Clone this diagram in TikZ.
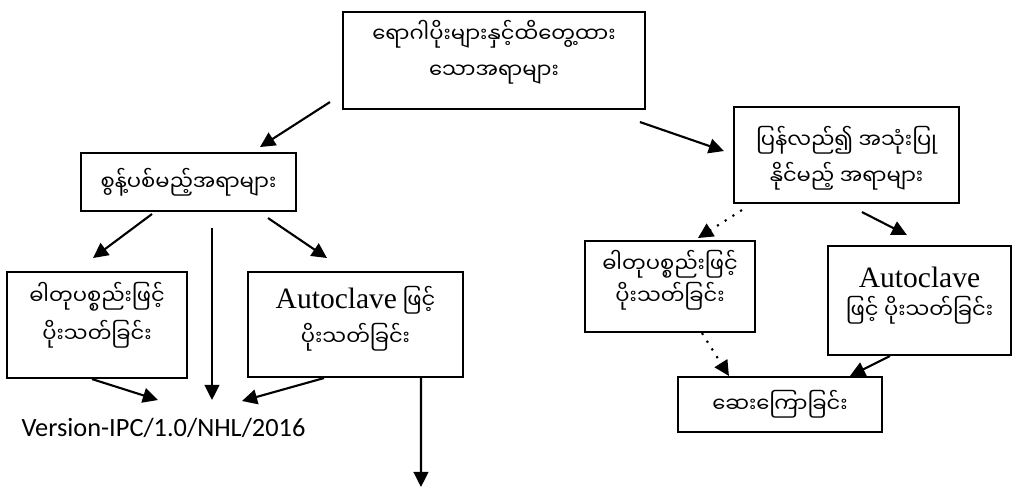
\documentclass[tikz,border=0pt]{standalone}
\usepackage{fontspec}
\setmainfont{Liberation Serif}
\newfontfamily\mmfont[Script=Myanmar]{Noto Sans Myanmar UI}
\newfontfamily\verfont{Carlito}
\usetikzlibrary{arrows.meta}
\lineskiplimit=-100pt

\begin{document}
\begin{tikzpicture}[scale = 10, font=\mmfont\fontsize{6}{10}\selectfont]
	\tikzstyle{boxStyle}=[draw, line width = 0.6pt, align = center, inner sep = 0pt, text depth = 0pt]
	\tikzstyle{arrowStyle}=[line width = 0.6pt, -{Triangle[length = 4.3pt, width = 4.2pt]}]
	\tikzstyle{dottedArrowStyle}=[arrowStyle, dotted]
	\useasboundingbox (0, 0) rectangle (1.012, 0.487);
	% boxes
	\node[boxStyle, minimum width = 3.02cm, minimum height = 0.97cm, text height = 10pt] (waste) at (0.494, 0.4265) {ရောဂါပိုးများနှင့်ထိတွေ့ထား\\သောအရာများ};
	\node[boxStyle, minimum width = 2.15cm, minimum height = 0.58cm, text depth = 1.6pt] (discard) at (0.1885, 0.305) {စွန့်ပစ်မည့်အရာများ};
	\node[boxStyle, minimum width = 2.25cm, minimum height = 0.96cm, text height = 16.5pt] (reuse) at (0.8465, 0.332) {ပြန်လည်၍ အသုံးပြု\\နိုင်မည့် အရာများ};
	\node[boxStyle, minimum width = 1.80cm, minimum height = 1.06cm, text height = 10.2pt, font = \mmfont\fontsize{6}{10.8}\selectfont] (chemL) at (0.097, 0.162) {ဓါတုပစ္စည်းဖြင့်\\ပိုးသတ်ခြင်း};
	\node[boxStyle, minimum width = 2.15cm, minimum height = 1.05cm, text height = 11.7pt, font = \mmfont\fontsize{6}{10.5}\selectfont] (autoL) at (0.3555, 0.1625) {{\rmfamily\fontsize{8.4}{10}\selectfont Autoclave} ဖြင့်\\ပိုးသတ်ခြင်း};
	\node[boxStyle, minimum width = 1.70cm, minimum height = 0.91cm, text height = 10pt, font = \mmfont\fontsize{6}{9}\selectfont] (chemR) at (0.670, 0.2005) {ဓါတုပစ္စည်းဖြင့်\\ပိုးသတ်ခြင်း};
	\node[boxStyle, minimum width = 1.83cm, minimum height = 1.09cm, text height = 10pt, font = \mmfont\fontsize{6}{8.8}\selectfont] (autoR) at (0.9195, 0.1865) {{\rmfamily\fontsize{8.4}{10}\selectfont Autoclave}\\ဖြင့် ပိုးသတ်ခြင်း};
	\node[boxStyle, minimum width = 2.04cm, minimum height = 0.55cm, text depth = 1.6pt] (wash) at (0.780, 0.0825) {ဆေးကြောခြင်း};
	\node[font = \verfont\fontsize{7.5}{9}\selectfont] (version) at (0.1635, 0.059) {Version-IPC/1.0/NHL/2016};
	% free ends
	\coordinate (wasteL) at (0.330, 0.385);
	\coordinate (wasteR) at (0.640, 0.365);
	\coordinate (discardTip) at (0.260, 0.340);
	\coordinate (reuseTip) at (0.724, 0.336);
	\coordinate (discardL) at (0.152, 0.273);
	\coordinate (discardM) at (0.212, 0.259);
	\coordinate (discardR) at (0.268, 0.269);
	\coordinate (chemLTip) at (0.093, 0.229);
	\coordinate (autoLTip) at (0.327, 0.229);
	\coordinate (versionL) at (0.158, 0.087);
	\coordinate (versionM) at (0.212, 0.087);
	\coordinate (versionR) at (0.242, 0.086);
	\coordinate (bottom) at (0.421, 0.0);
	\coordinate (reuseL) at (0.742, 0.277);
	\coordinate (reuseR) at (0.862, 0.275);
	\coordinate (chemRTip) at (0.698, 0.249);
	\coordinate (autoRTip) at (0.907, 0.252);
	% arrows
	\draw[arrowStyle] (wasteL) -- (discardTip);
	\draw[arrowStyle] (wasteR) -- (reuseTip);
	\draw[arrowStyle] (discardL) -- (chemLTip);
	\draw[arrowStyle] (discardM) -- (versionM);
	\draw[arrowStyle] (discardR) -- (autoLTip);
	\draw[arrowStyle] ([xshift = -0.005cm]chemL.south) -- (versionL);
	\draw[arrowStyle] ([xshift = -0.0315cm]autoL.south) -- (versionR);
	\draw[arrowStyle] ([xshift = 0.0655cm]autoL.south) -- (bottom);
	\draw[dottedArrowStyle] (reuseL) -- (chemRTip);
	\draw[arrowStyle] (reuseR) -- (autoRTip);
	\draw[dottedArrowStyle] ([xshift = 0.032cm]chemR.south) -- ([xshift = -0.051cm]wash.north);
	\draw[arrowStyle] ([xshift = -0.0295cm]autoR.south) -- ([xshift = 0.070cm]wash.north);
\end{tikzpicture}
\end{document}
